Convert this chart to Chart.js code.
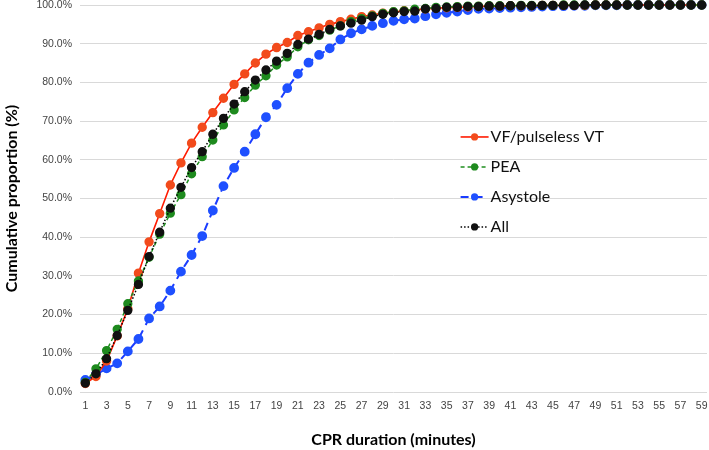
<!DOCTYPE html>
<html>
<head>
<meta charset="utf-8">
<script src="https://cdn.jsdelivr.net/npm/chart.js@4.4.1/dist/chart.umd.min.js"></script>
<style>
  html, body { margin: 0; padding: 0; background: #fff; }
  #wrap { width: 709px; height: 450px; position: relative; }
</style>
</head>
<body>
<div id="wrap"><canvas id="myChart"></canvas></div>
<script>
// CPR duration in minutes (1..59)
const minutes = [];
for (let m = 1; m <= 59; m++) minutes.push(m);

// 누적 비율 (%)
const vfData = [2.2, 4.0, 8.0, 14.5, 21.5, 30.7, 38.8, 46.1, 53.5, 59.2,
  64.3, 68.4, 72.2, 75.9, 79.5, 82.2, 85.0, 87.3, 89.0, 90.3,
  92.1, 93.1, 94.1, 95.0, 95.7, 96.3, 97.0, 97.4, 97.9, 98.2,
  98.5, 98.7, 99.0, 99.2, 99.3, 99.4, 99.5, 99.6, 99.7, 99.7,
  99.8, 99.8, 99.8, 99.9, 99.9, 99.9, 99.9, 99.9, 100, 100,
  100, 100, 100, 100, 100, 100, 100, 100, 100];
const peaData = [2.5, 6.0, 10.7, 16.2, 22.8, 28.7, 34.8, 40.8, 46.2, 51.0,
  56.4, 60.8, 65.1, 69.0, 72.9, 76.1, 79.3, 81.7, 84.5, 86.6,
  89.2, 91.0, 92.1, 93.5, 94.6, 95.7, 96.5, 97.2, 97.8, 98.3,
  98.5, 98.9, 99.1, 99.4, 99.5, 99.6, 99.7, 99.7, 99.8, 99.8,
  99.8, 99.9, 99.9, 99.9, 99.9, 100, 100, 100, 100, 100,
  100, 100, 100, 100, 100, 100, 100, 100, 100];
const asystoleData = [3.1, 4.5, 6.1, 7.4, 10.5, 13.7, 19.0, 22.1, 26.2, 31.1,
  35.4, 40.3, 46.9, 53.2, 57.9, 62.1, 66.6, 71.0, 74.2, 78.5,
  82.2, 85.1, 87.1, 88.8, 91.1, 92.7, 93.7, 94.6, 95.3, 95.9,
  96.3, 96.5, 97.1, 97.6, 98.0, 98.3, 98.7, 99.0, 99.1, 99.2,
  99.3, 99.4, 99.5, 99.6, 99.7, 99.7, 99.8, 99.8, 99.9, 99.9,
  99.9, 100, 100, 100, 100, 100, 100, 100, 100];
const allData = [2.3, 4.7, 8.6, 14.6, 21.1, 27.8, 35.0, 41.3, 47.5, 52.9,
  58.0, 62.1, 66.6, 70.7, 74.4, 77.6, 80.6, 83.2, 85.5, 87.5,
  89.8, 91.2, 92.4, 93.7, 94.6, 95.3, 96.1, 97.0, 97.6, 98.0,
  98.3, 98.4, 99.0, 99.1, 99.4, 99.4, 99.6, 99.6, 99.7, 99.7,
  99.8, 99.8, 99.8, 99.9, 99.9, 99.9, 99.9, 100, 100, 100,
  100, 100, 100, 100, 100, 100, 100, 100, 100];

const yTicks = [0, 10, 20, 30, 40, 50, 60, 70, 80, 90, 100];

function makeSeries(label, data, line, point, dash, width, order) {
    return {
        label: label,
        data: data,
        borderColor: line,
        backgroundColor: point,
        pointBackgroundColor: point,
        pointBorderColor: point,
        pointRadius: 3.9,
        pointHoverRadius: 3.9,
        borderWidth: width,
        borderDash: dash,
        tension: 0,
        clip: false,
        order: order
    };
}

// 그래프 안쪽 범례
const insideLegend = {
    id: 'insideLegend',
    afterDatasetsDraw(chart) {
        const { ctx, chartArea } = chart;
        const x0 = chartArea.left + (chartArea.right - chartArea.left) * 0.607;
        const y0 = chartArea.top + (chartArea.bottom - chartArea.top) * 0.341;
        const rowGap = 30;
        ctx.save();
        chart.data.datasets.forEach((ds, row) => {
            const y = y0 + row * rowGap;
            ctx.strokeStyle = ds.borderColor;
            ctx.lineWidth = ds.borderWidth;
            ctx.setLineDash(ds.borderDash || []);
            ctx.beginPath();
            ctx.moveTo(x0, y);
            ctx.lineTo(x0 + 28, y);
            ctx.stroke();
            ctx.setLineDash([]);
            ctx.fillStyle = ds.pointBackgroundColor;
            ctx.beginPath();
            ctx.arc(x0 + 14, y, 3.6, 0, Math.PI * 2);
            ctx.fill();
            ctx.fillStyle = '#111';
            ctx.font = '16px Lato';
            ctx.textBaseline = 'middle';
            ctx.textAlign = 'left';
            ctx.fillText(ds.label, x0 + 30, y);
        });
        ctx.restore();
    }
};

const ctx = document.getElementById('myChart').getContext('2d');
const myChart = new Chart(ctx, {
    type: 'line',
    data: {
        labels: minutes,
        datasets: [
            makeSeries('VF/pulseless VT', vfData, '#ff1a00', '#f24b1c', [], 1.6, 2),
            makeSeries('PEA', peaData, '#1f8f1f', '#1e8a1e', [4, 3], 1.5, 1),
            makeSeries('Asystole', asystoleData, '#1a3cff', '#1f50ff', [8, 6], 2, 3),
            makeSeries('All', allData, '#000000', '#111111', [1.5, 2], 1.5, 0)
        ]
    },
    options: {
        responsive: true,
        maintainAspectRatio: false,
        animation: false,
        layout: { autoPadding: false, padding: { top: 5, right: 2, left: 0, bottom: 0 } },
        plugins: {
            legend: { display: false },
            tooltip: { enabled: false }
        },
        scales: {
            x: {
                offset: true,
                grid: { display: false, drawTicks: false },
                border: { display: false },
                ticks: {
                    autoSkip: false,
                    maxRotation: 0,
                    padding: 8,
                    color: '#444',
                    font: { family: 'Liberation Sans', size: 10.5 },
                    callback: function(value, index) {
                        const m = minutes[index];
                        return m % 2 === 1 ? String(m) : '';
                    }
                },
                title: {
                    display: true,
                    text: 'CPR duration (minutes)',
                    color: '#000',
                    font: { family: 'Lato', size: 16, weight: 'bold' },
                    padding: { top: 4, bottom: 1 }
                },
                afterFit: function(scale) {
                    scale.height = 58;
                    scale.paddingLeft = 0;
                    scale.paddingRight = 0;
                }
            },
            y: {
                min: 0,
                max: 100,
                afterBuildTicks: function(scale) {
                    scale.ticks = yTicks.map(v => ({ value: v }));
                },
                grid: { color: '#d9d9d9', lineWidth: 1, drawTicks: false },
                border: { display: false },
                ticks: {
                    padding: 8,
                    color: '#444',
                    font: { family: 'Liberation Sans', size: 10.5 },
                    callback: v => v.toFixed(1) + '%'
                },
                title: {
                    display: true,
                    text: 'Cumulative proportion (%)',
                    color: '#000',
                    font: { family: 'Lato', size: 16, weight: 'bold' },
                    padding: { top: 2, bottom: 0 }
                },
                afterFit: function(scale) {
                    scale.width = 80;
                    scale.paddingTop = 0;
                    scale.paddingBottom = 0;
                }
            }
        }
    },
    plugins: [insideLegend]
});
</script>
</body>
</html>
